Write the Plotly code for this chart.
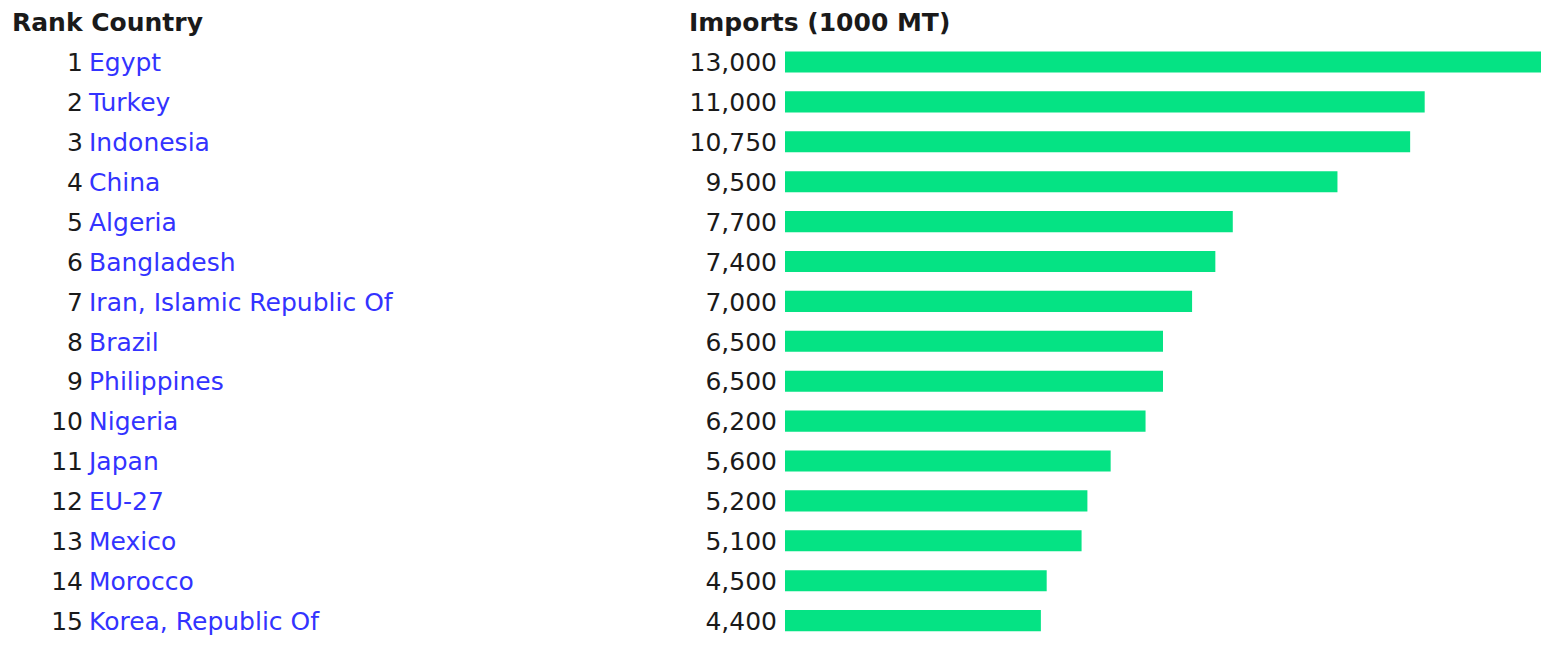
import plotly.graph_objects as go

ranks = list(range(1, 17))
countries = ["Egypt", "Turkey", "Indonesia", "China", "Algeria", "Bangladesh",
             "Iran, Islamic Republic Of", "Brazil", "Philippines", "Nigeria",
             "Japan", "EU-27", "Mexico", "Morocco", "Korea, Republic Of", "Thailand"]
imports = [13000, 11000, 10750, 9500, 7700, 7400, 7000, 6500, 6500, 6200,
           5600, 5200, 5100, 4500, 4400, 3800]
header_left = "Rank Country"
header_right = "Imports (1000 MT)"

W, H = 1541, 650
FONT = "DejaVu Sans"
FS = 25
BAR_COLOR = "#05E384"
LINK_COLOR = "#3333FF"
TEXT_COLOR = "#1a1a1a"

bar_x0 = 785
row0 = 62.0
step = 39.9
text_shift = 3.0  # px the row labels sit below the bar centre

y_top = 1 - row0 / step
y_bot = 1 + (H - row0) / step
d = text_shift / step

fig = go.Figure()

fig.add_trace(go.Bar(
    x=imports, y=ranks, orientation="h", width=0.53,
    marker=dict(color=BAR_COLOR, line=dict(width=0)),
    xaxis="x", yaxis="y", hoverinfo="skip", showlegend=False,
))

fig.add_trace(go.Scatter(
    x=[83] * len(ranks), y=ranks, mode="text",
    text=[str(r) for r in ranks], textposition="middle left",
    textfont=dict(family=FONT, size=FS, color=TEXT_COLOR),
    xaxis="x2", yaxis="y2", cliponaxis=False, showlegend=False, hoverinfo="skip",
))
fig.add_trace(go.Scatter(
    x=[89] * len(ranks), y=ranks, mode="text",
    text=countries, textposition="middle right",
    textfont=dict(family=FONT, size=FS, color=LINK_COLOR),
    xaxis="x2", yaxis="y2", cliponaxis=False, showlegend=False, hoverinfo="skip",
))
fig.add_trace(go.Scatter(
    x=[777] * len(ranks), y=ranks, mode="text",
    text=[f"{v:,}" for v in imports], textposition="middle left",
    textfont=dict(family=FONT, size=FS, color=TEXT_COLOR),
    xaxis="x2", yaxis="y2", cliponaxis=False, showlegend=False, hoverinfo="skip",
))

fig.update_layout(
    width=W, height=H,
    margin=dict(l=0, r=0, t=0, b=0),
    paper_bgcolor="white", plot_bgcolor="white",
    xaxis=dict(domain=[bar_x0 / W, 1], range=[0, 13000], visible=False,
               fixedrange=True),
    xaxis2=dict(domain=[0, bar_x0 / W], range=[0, bar_x0], visible=False,
                anchor="y2", fixedrange=True),
    yaxis=dict(range=[y_bot, y_top], visible=False, domain=[0, 1],
               fixedrange=True),
    yaxis2=dict(range=[y_bot - d, y_top - d], visible=False, domain=[0, 1],
                anchor="x2", fixedrange=True),
    annotations=[
        dict(text="<b>" + header_left + "</b>", xref="paper", yref="paper",
             x=10 / W, y=1 - 22 / H, xanchor="left", yanchor="middle",
             showarrow=False, font=dict(family=FONT, size=FS, color=TEXT_COLOR)),
        dict(text="<b>" + header_right + "</b>", xref="paper", yref="paper",
             x=687 / W, y=1 - 22 / H, xanchor="left", yanchor="middle",
             showarrow=False, font=dict(family=FONT, size=FS, color=TEXT_COLOR)),
    ],
)

fig.write_html(
    "out.html",
    config={"displayModeBar": False},
    post_script="document.body.style.margin='0';document.body.style.overflow='hidden';",
)
